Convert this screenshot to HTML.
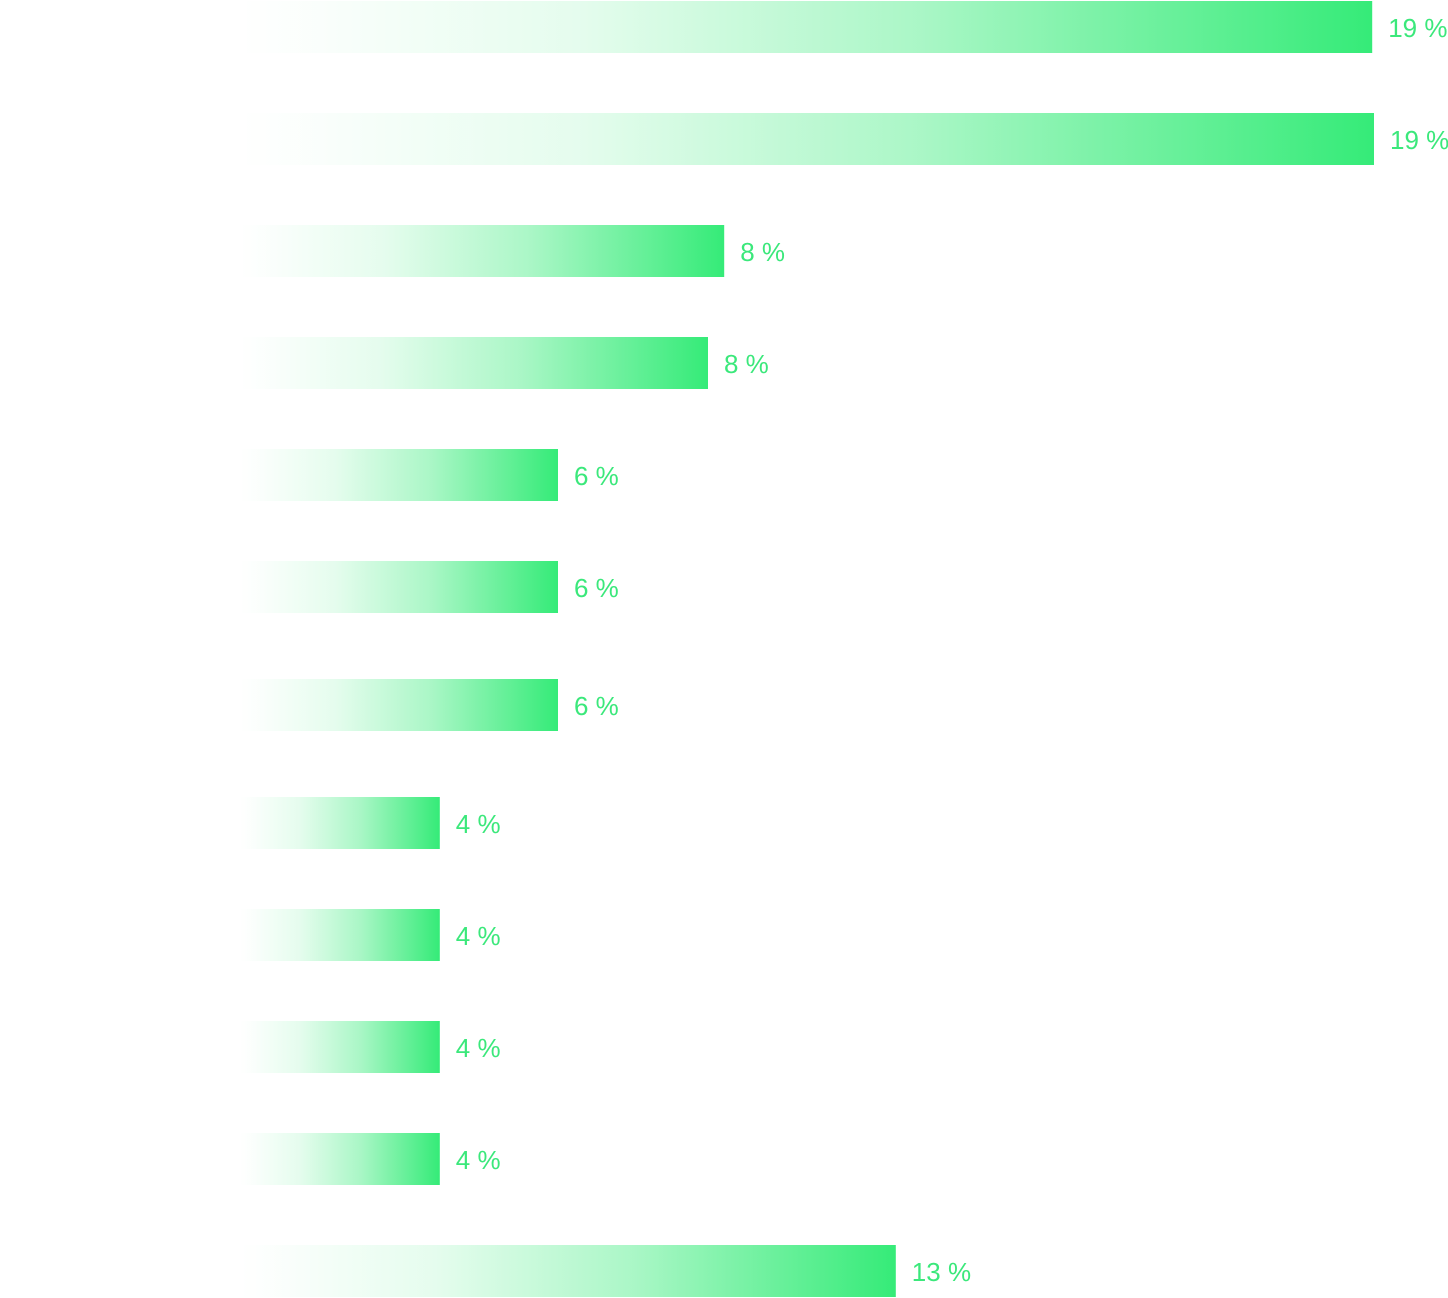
<!DOCTYPE html>
<html><head><meta charset="utf-8"><style>
html,body{margin:0;padding:0;background:#fff;width:1448px;height:1298px;overflow:hidden}
svg{display:block}
text{font-family:"Liberation Sans",sans-serif;font-size:26px;fill:#3be87b}
</style></head><body>
<svg id="chart" width="1448" height="1298">
<defs><linearGradient id="g" x1="0" x2="1" y1="0" y2="0">
<stop offset="0" stop-color="#35eb78" stop-opacity="0"/>
<stop offset="0.06" stop-color="#35eb78" stop-opacity="0.02"/>
<stop offset="0.3" stop-color="#35eb78" stop-opacity="0.13"/>
<stop offset="0.6" stop-color="#35eb78" stop-opacity="0.42"/>
<stop offset="1" stop-color="#35eb78" stop-opacity="1"/></linearGradient></defs>
</svg>
<script>
const values=[18.87,18.9,8.07,7.8,5.3,5.3,5.3,3.33,3.33,3.33,3.33,10.93];
const labels=["19 %","19 %","8 %","8 %","6 %","6 %","6 %","4 %","4 %","4 %","4 %","13 %"];
const rowTops=[1,113,225,337,449,561,679,797,909,1021,1133,1245];
const x0=240, pxPerUnit=60, barH=52;
function xScale(v){return x0+v*pxPerUnit;}
const svg=document.getElementById('chart');
const NS='http://www.w3.org/2000/svg';
values.forEach((v,i)=>{
  const r=document.createElementNS(NS,'rect');
  
  
  r.setAttribute('x',x0);r.setAttribute('y',rowTops[i]);
  r.setAttribute('width',xScale(v)-x0);r.setAttribute('height',barH);
  r.setAttribute('fill','url(#g)');
  svg.appendChild(r);
  const t=document.createElementNS(NS,'text');
  
  
  t.setAttribute('x',xScale(v)+16);t.setAttribute('y',rowTops[i]+36);
  t.textContent=labels[i];
  svg.appendChild(t);
});
</script>
</body></html>
